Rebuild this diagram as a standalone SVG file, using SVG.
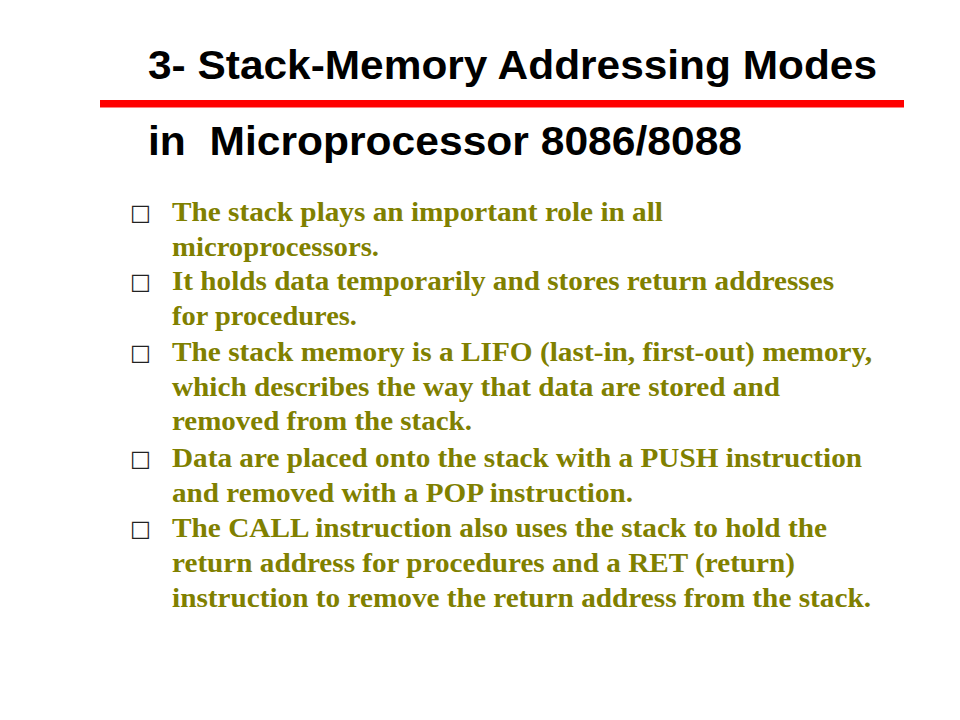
<svg xmlns="http://www.w3.org/2000/svg" width="960" height="720" viewBox="0 0 960 720">
  <style>
    .title { font-family: "Liberation Sans", Arial, sans-serif; font-weight: bold; font-size: 41px; fill: #000000; }
    .body { font-family: "Liberation Serif", "Times New Roman", serif; font-weight: bold; font-size: 28px; fill: #808000; }
    .bullet { font-family: "DejaVu Sans", sans-serif; font-size: 22px; fill: #222222; }
  </style>
  <rect x="0" y="0" width="960" height="720" fill="#ffffff"/>
  <g id="title">
    <text class="title" x="148" y="79" textLength="729" lengthAdjust="spacingAndGlyphs">3- Stack-Memory Addressing Modes</text>
    <rect x="100" y="100" width="804" height="7.5" fill="#ff0000"/>
    <text class="title" x="148" y="155" textLength="594" lengthAdjust="spacingAndGlyphs" xml:space="preserve">in  Microprocessor 8086/8088</text>
  </g>
  <g id="bullets">
    <text class="bullet" x="130" y="220">□</text>
    <text class="bullet" x="130" y="289">□</text>
    <text class="bullet" x="130" y="360">□</text>
    <text class="bullet" x="130" y="466">□</text>
    <text class="bullet" x="130" y="536">□</text>
  </g>
  <g id="body">
    <text class="body" x="172" y="221" textLength="491" lengthAdjust="spacingAndGlyphs">The stack plays an important role in all</text>
    <text class="body" x="172" y="256" textLength="207" lengthAdjust="spacingAndGlyphs">microprocessors.</text>
    <text class="body" x="172" y="290" textLength="662" lengthAdjust="spacingAndGlyphs">It holds data temporarily and stores return addresses</text>
    <text class="body" x="172" y="325" textLength="185" lengthAdjust="spacingAndGlyphs">for procedures.</text>
    <text class="body" x="172" y="361" textLength="700" lengthAdjust="spacingAndGlyphs">The stack memory is a LIFO (last-in, first-out) memory,</text>
    <text class="body" x="172" y="396" textLength="608" lengthAdjust="spacingAndGlyphs">which describes the way that data are stored and</text>
    <text class="body" x="172" y="430" textLength="300" lengthAdjust="spacingAndGlyphs">removed from the stack.</text>
    <text class="body" x="172" y="467" textLength="690" lengthAdjust="spacingAndGlyphs">Data are placed onto the stack with a PUSH instruction</text>
    <text class="body" x="172" y="502" textLength="461" lengthAdjust="spacingAndGlyphs">and removed with a POP instruction.</text>
    <text class="body" x="172" y="537" textLength="655" lengthAdjust="spacingAndGlyphs">The CALL instruction also uses the stack to hold the</text>
    <text class="body" x="172" y="572" textLength="623" lengthAdjust="spacingAndGlyphs">return address for procedures and a RET (return)</text>
    <text class="body" x="172" y="607" textLength="699" lengthAdjust="spacingAndGlyphs">instruction to remove the return address from the stack.</text>
  </g>
</svg>
